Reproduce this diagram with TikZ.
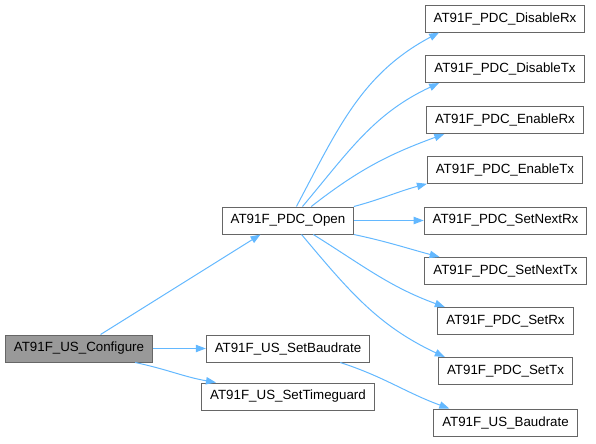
\documentclass[tikz,border=0pt]{standalone}
\usepackage{fontspec}
\setmainfont{Liberation Sans}
\usetikzlibrary{arrows.meta}
\definecolor{callblue}{HTML}{63B8FF}
\definecolor{boxline}{HTML}{666666}
\definecolor{rootfill}{HTML}{999999}
\begin{document}
\begin{tikzpicture}[x=0.75pt, y=0.75pt,
	fn/.style={draw=boxline, fill=white, line width=0.75pt, font=\fontsize{10pt}{12pt}\selectfont,
		inner xsep=6.3pt, inner ysep=0pt, minimum height=20.25pt},
	rootfn/.style={fn, fill=rootfill},
	call/.style={draw=callblue, line width=0.75pt, -{Triangle[length=7.5pt, width=5.5pt]}}]
	\useasboundingbox (0, 0) rectangle (596, -443);
	% callers and direct callees
	\node[rootfn] (configure) at (79, -348.5) {AT91F\_US\_Configure};
	\node[fn] (open) at (288, -220.5) {AT91F\_PDC\_Open};
	\node[fn] (setbaud) at (288, -348.5) {AT91F\_US\_SetBaudrate};
	\node[fn] (timeguard) at (288, -396.5) {AT91F\_US\_SetTimeguard};
	% leaf functions
	\node[fn] (disrx) at (505, -18.5) {AT91F\_PDC\_DisableRx};
	\node[fn] (distx) at (505, -69) {AT91F\_PDC\_DisableTx};
	\node[fn] (enrx) at (505, -120) {AT91F\_PDC\_EnableRx};
	\node[fn] (entx) at (505, -170) {AT91F\_PDC\_EnableTx};
	\node[fn] (nextrx) at (505.5, -220.5) {AT91F\_PDC\_SetNextRx};
	\node[fn] (nexttx) at (505.5, -271) {AT91F\_PDC\_SetNextTx};
	\node[fn] (setrx) at (505.5, -321) {AT91F\_PDC\_SetRx};
	\node[fn] (settx) at (505.5, -371) {AT91F\_PDC\_SetTx};
	\node[fn] (baud) at (505.5, -422.5) {AT91F\_US\_Baudrate};
	% calls
	\draw[call] (configure.33) -- (open.207);
	\draw[call] (configure.east) -- (setbaud.west);
	\draw[call] (configure.-14) to[out=-12, in=170] (timeguard.169);
	\draw[call] (open.59) to[out=62, in=208] (disrx.192);
	\draw[call] (open.44) to[out=50, in=205] (distx.192);
	\draw[call] (open.31.5) to[out=38, in=200] (enrx.193);
	\draw[call] (open.12.7) to[out=15, in=195] (entx.190);
	\draw[call] (open.east) -- (nextrx.west);
	\draw[call] (open.-12.7) to[out=-12, in=165] (nexttx.168);
	\draw[call] (open.-29) to[out=-32, in=160] (setrx.167);
	\draw[call] (open.-46) to[out=-50, in=155] (settx.167);
	\draw[call] (setbaud.-15) to[out=-18, in=160] (baud.166);
\end{tikzpicture}
\end{document}
